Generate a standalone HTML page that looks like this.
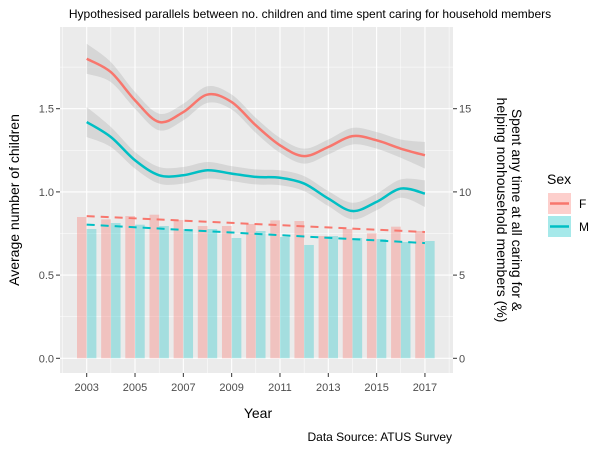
<!DOCTYPE html>
<html><head><meta charset="utf-8"><style>
body{margin:0;background:#fff;}
svg text{font-family:"Liberation Sans",Arial,sans-serif;}
</style></head><body>
<svg width="600" height="450" xmlns="http://www.w3.org/2000/svg">
<rect width="600" height="450" fill="#fff"/>
<text x="310" y="18" text-anchor="middle" font-size="12" fill="#000">Hypothesised parallels between no. children and time spent caring for household members</text>
<rect x="60" y="27" width="393" height="346" fill="#ebebeb"/>
<g id="grid"></g>
<g id="bars"></g>
<g id="ribbons"></g>
<g id="lines"></g>
<g id="axes"></g>
<text x="258" y="418" text-anchor="middle" font-size="14">Year</text>
<text transform="translate(19,200) rotate(-90)" text-anchor="middle" font-size="14">Average number of children</text>
<text transform="translate(512,210) rotate(90)" text-anchor="middle" font-size="14"><tspan x="0" dy="0">Spent any time at all caring for &amp;</tspan><tspan x="0" dy="15">helping nonhousehold members (%)</tspan></text>
<g>
<text x="547" y="184" font-size="14">Sex</text>
<g><rect x="548" y="193" width="23" height="21" fill="#f8766d" fill-opacity="0.35"/><line x1="550" x2="569" y1="203.5" y2="203.5" stroke="#f8766d" stroke-width="2.5"/><text x="579" y="208" font-size="12">F</text></g>
<g><rect x="548" y="216" width="23" height="21" fill="#00bfc4" fill-opacity="0.35"/><line x1="550" x2="569" y1="226.5" y2="226.5" stroke="#00bfc4" stroke-width="2.5"/><text x="579" y="231" font-size="12">M</text></g>
</g>
<text x="452" y="441" text-anchor="end" font-size="12">Data Source: ATUS Survey</text>
</svg>
<script>
const years=[2003,2004,2005,2006,2007,2008,2009,2010,2011,2012,2013,2014,2015,2016,2017];
const barsF=[0.849,0.835,0.855,0.863,0.831,0.795,0.795,0.807,0.829,0.825,0.735,0.777,0.751,0.791,0.765];
const barsM=[0.777,0.813,0.803,0.795,0.777,0.777,0.723,0.765,0.729,0.681,0.735,0.723,0.717,0.699,0.705];
const smoothF=[18.0,17.2,15.5,14.2,14.8,15.85,15.4,14.0,12.8,12.15,12.7,13.35,13.1,12.6,12.2];
const smoothM=[14.2,13.3,11.9,11.0,11.0,11.3,11.1,10.9,10.85,10.5,9.6,8.85,9.4,10.2,9.9];
const seWidth=[0.9,0.6,0.5,0.5,0.5,0.5,0.45,0.45,0.45,0.45,0.45,0.5,0.5,0.55,0.8];
const leftTicks=[0,0.5,1.0,1.5];
const leftLabels=["0.0","0.5","1.0","1.5"];
const rightTicks=[0,5,10,15];
const xTicks=[2003,2005,2007,2009,2011,2013,2015,2017];

const NS="http://www.w3.org/2000/svg";
const x=v=>86.7+(v-2003)*24.16;
const y=v=>358.3-166.4*v;
const y2=v=>y(v/10);
function mk(tag,attrs,parent){const e=document.createElementNS(NS,tag);for(const k in attrs)e.setAttribute(k,attrs[k]);document.getElementById(parent).appendChild(e);return e;}

for(let v=0.25;v<2;v+=0.5){const g=mk('line',{x1:60,x2:453,y1:y(v),y2:y(v),stroke:'#fff','stroke-width':0.5},'grid');

}
for(let yr=2002;yr<=2018;yr+=2){const g=mk('line',{x1:x(yr),x2:x(yr),y1:27,y2:373,stroke:'#fff','stroke-width':0.5},'grid');

}
leftTicks.forEach(v=>{const g=mk('line',{x1:60,x2:453,y1:y(v),y2:y(v),stroke:'#fff','stroke-width':1.1},'grid');

});
xTicks.forEach(v=>{const g=mk('line',{x1:x(v),x2:x(v),y1:27,y2:373,stroke:'#fff','stroke-width':1.1},'grid');

});

years.forEach((yr,i)=>{
 const bf=mk('rect',{x:x(yr)-9.7,y:y(barsF[i]),width:9.7,height:y(0)-y(barsF[i]),fill:'#f8766d','fill-opacity':0.35},'bars');
 
 
 const bm=mk('rect',{x:x(yr),y:y(barsM[i]),width:9.7,height:y(0)-y(barsM[i]),fill:'#00bfc4','fill-opacity':0.3},'bars');
 
 
});

function pathFrom(pts){let d='M'+pts[0][0]+','+pts[0][1];
 for(let i=0;i<pts.length-1;i++){const p0=pts[Math.max(0,i-1)],p1=pts[i],p2=pts[i+1],p3=pts[Math.min(pts.length-1,i+2)];
  d+=' C'+(p1[0]+(p2[0]-p0[0])/6)+','+(p1[1]+(p2[1]-p0[1])/6)+' '+(p2[0]-(p3[0]-p1[0])/6)+','+(p2[1]-(p3[1]-p1[1])/6)+' '+p2[0]+','+p2[1];}
 return d;}
function ribbon(vals,name){
 const up=years.map((yr,i)=>[x(yr),y2(vals[i]+seWidth[i])]);
 const lo=years.map((yr,i)=>[x(yr),y2(vals[i]-seWidth[i])]).reverse();
 const d=pathFrom(up)+' L'+lo[0][0]+','+lo[0][1]+pathFrom(lo).replace(/^M[^C]*/,' ')+' Z';
 const r=mk('path',{d:d,fill:'#999','fill-opacity':0.25},'ribbons');
 
 }
ribbon(smoothF,'ribbon-f');
ribbon(smoothM,'ribbon-m');
const lf=mk('path',{d:pathFrom(years.map((yr,i)=>[x(yr),y2(smoothF[i])])),fill:'none',stroke:'#f8766d','stroke-width':2.5},'lines');


const lm=mk('path',{d:pathFrom(years.map((yr,i)=>[x(yr),y2(smoothM[i])])),fill:'none',stroke:'#00bfc4','stroke-width':2.5},'lines');



function fit(vals){const n=vals.length,mx=years.reduce((a,b)=>a+b)/n,my=vals.reduce((a,b)=>a+b)/n;
 let sxy=0,sxx=0;years.forEach((yr,i)=>{sxy+=(yr-mx)*(vals[i]-my);sxx+=(yr-mx)*(yr-mx);});const b=sxy/sxx;return yr=>my+b*(yr-mx);}
const ff=fit(barsF),fm=fit(barsM);
const df=mk('line',{x1:x(2003),x2:x(2017),y1:y(ff(2003)),y2:y(ff(2017)),stroke:'#f8766d','stroke-width':2,'stroke-dasharray':'8,6'},'lines');


const dm=mk('line',{x1:x(2003),x2:x(2017),y1:y(fm(2003)),y2:y(fm(2017)),stroke:'#00bfc4','stroke-width':2,'stroke-dasharray':'8,6'},'lines');



leftTicks.forEach((v,i)=>{
 mk('line',{x1:56,x2:60,y1:y(v),y2:y(v),stroke:'#333','stroke-width':1},'axes');
 const t=mk('text',{x:54,y:y(v)+4,'text-anchor':'end','font-size':11,fill:'#4d4d4d'},'axes');t.textContent=leftLabels[i];
 
 });
rightTicks.forEach(v=>{
 mk('line',{x1:453,x2:457,y1:y2(v),y2:y2(v),stroke:'#333','stroke-width':1},'axes');
 const t=mk('text',{x:459,y:y2(v)+4,'text-anchor':'start','font-size':11,fill:'#4d4d4d'},'axes');t.textContent=String(v);
 
 });
xTicks.forEach(v=>{
 mk('line',{x1:x(v),x2:x(v),y1:373,y2:377,stroke:'#333','stroke-width':1},'axes');
 const t=mk('text',{x:x(v),y:391,'text-anchor':'middle','font-size':11,fill:'#4d4d4d'},'axes');t.textContent=String(v);
 
 });
</script>
</body></html>
